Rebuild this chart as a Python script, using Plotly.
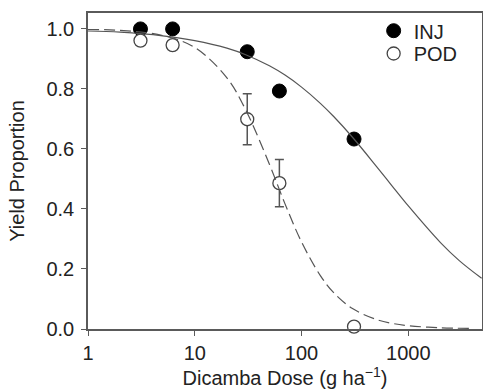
import plotly.graph_objects as go

# Observed data
dose = [3.1, 6.2, 31, 62, 310]
inj_yield = [1.0, 1.0, 0.924, 0.793, 0.633]
pod_yield = [0.961, 0.946, 0.699, 0.486, 0.008]
pod_err = [0.0, 0.0, 0.085, 0.079, 0.0]

# Fitted curves
inj_curve_dose = [1, 2, 5, 10, 20, 30, 50, 70, 100, 150, 200, 300, 500, 700, 1000, 2000, 3000, 4860]
inj_curve_yield = [0.993, 0.989, 0.977, 0.961, 0.936, 0.914, 0.877, 0.846, 0.806, 0.752, 0.708,
                   0.639, 0.543, 0.478, 0.410, 0.288, 0.228, 0.169]
pod_curve_dose = [1, 2, 5, 10, 20, 30, 50, 70, 100, 150, 200, 300, 500, 700, 1000, 2000, 3800]
pod_curve_yield = [0.998, 0.995, 0.978, 0.938, 0.837, 0.730, 0.549, 0.417, 0.290, 0.178, 0.121,
                   0.068, 0.032, 0.019, 0.011, 0.004, 0.002]

x_ticks = [1, 10, 100, 1000]
x_tick_labels = ["1", "10", "100", "1000"]
y_ticks = [0.0, 0.2, 0.4, 0.6, 0.8, 1.0]

axis_col = "#5a5a5a"
font_family = "Liberation Sans, Arial, sans-serif"

fig = go.Figure()

fig.add_trace(go.Scatter(
    x=dose, y=inj_yield, mode="markers", name="INJ", legend="legend",
    marker=dict(symbol="circle", size=14, color="black", line=dict(color="black", width=1)),
    cliponaxis=False,
))
fig.add_trace(go.Scatter(
    x=dose, y=pod_yield, mode="markers", name="POD", legend="legend2",
    marker=dict(symbol="circle", size=13, color="white", line=dict(color="#444444", width=1.3)),
    error_y=dict(type="data", array=pod_err, visible=True, color="#555555", thickness=1.5, width=4.5),
    cliponaxis=False,
))
fig.add_trace(go.Scatter(
    x=inj_curve_dose, y=inj_curve_yield, mode="lines", showlegend=False,
    line=dict(color="#555555", width=1.2, shape="spline"), hoverinfo="skip",
))
fig.add_trace(go.Scatter(
    x=pod_curve_dose, y=pod_curve_yield, mode="lines", showlegend=False,
    line=dict(color="#555555", width=1.2, shape="spline", dash="11px,5px"), hoverinfo="skip",
))

leg_common = dict(
    xanchor="left", yanchor="middle",
    bgcolor="rgba(0,0,0,0)", borderwidth=0,
    font=dict(size=20, color="#222222"),
    itemsizing="trace",
)

fig.update_layout(
    width=483, height=391,
    margin=dict(l=88, r=1, t=13, b=62, autoexpand=False),
    paper_bgcolor="white", plot_bgcolor="white",
    font=dict(family=font_family, size=20, color="#222222"),
    showlegend=True,
    legend=dict(x=0.725, y=1 - (30.7 - 13) / 316, **leg_common),
    legend2=dict(x=0.725, y=1 - (53.5 - 13) / 316, **leg_common),
    xaxis=dict(
        type="log", range=[0, 3.69], automargin=False,
        tickvals=x_ticks, ticktext=x_tick_labels,
        ticks="outside", ticklen=5, tickwidth=1.3, tickcolor=axis_col,
        showline=True, linecolor=axis_col, linewidth=1.5, mirror=True,
        showgrid=False, zeroline=False,
        title=dict(text="Dicamba Dose (g ha<sup>−1</sup>)", standoff=8, font=dict(size=20)),
        tickfont=dict(size=20),
    ),
    yaxis=dict(
        range=[0, 1.053], automargin=False,
        tickvals=y_ticks, tickformat=".1f",
        ticks="outside", ticklen=5, tickwidth=1.3, tickcolor=axis_col,
        showline=True, linecolor=axis_col, linewidth=1.5, mirror=True,
        showgrid=False, zeroline=False, ticklabelstandoff=3,
        title=dict(text="Yield Proportion", standoff=16, font=dict(size=20)),
        tickfont=dict(size=20),
    ),
)

fig.write_html("out.html", config={"displayModeBar": False},
               post_script="document.body.style.margin='0';")
